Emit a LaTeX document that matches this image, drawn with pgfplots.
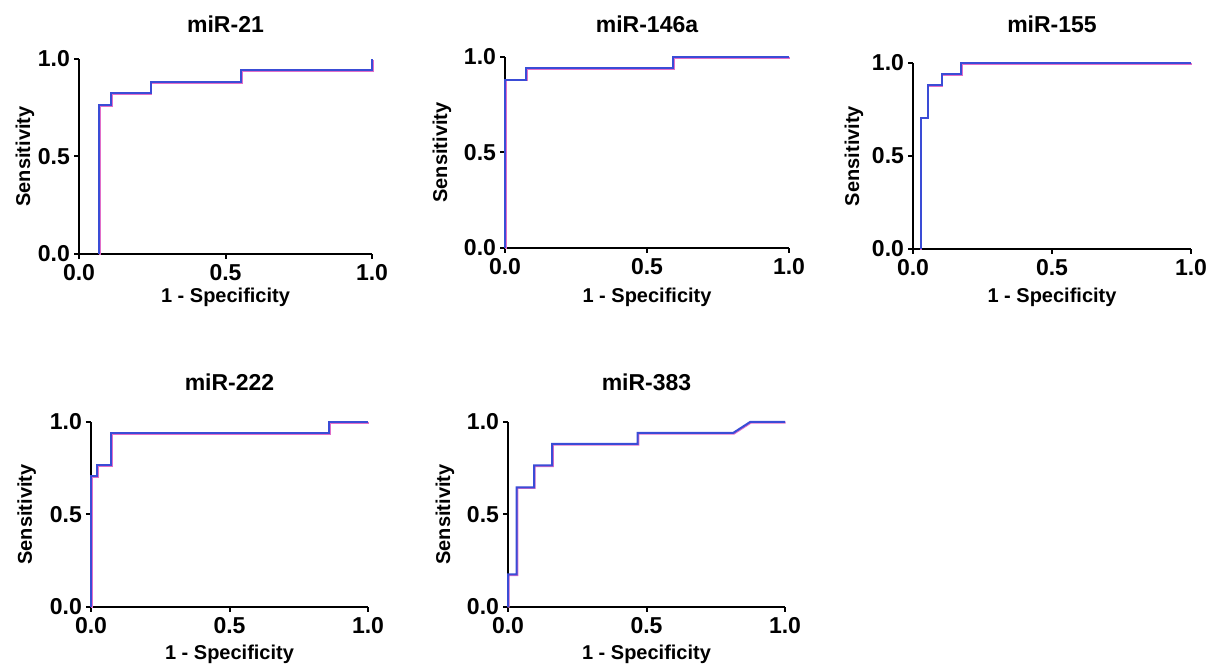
\documentclass[border=0pt]{standalone}
\usepackage{pgfplots}
\pgfplotsset{compat=1.18}
\usepackage{fontspec}
\setmainfont{Liberation Sans}
\definecolor{rocblue}{RGB}{58,76,214}
\definecolor{rocpink}{RGB}{225,110,200}
\pgfplotsset{
  rocaxis/.style={
    scale only axis,
    axis x line*=bottom, axis y line*=left,
    axis line style={line width=1pt, black},
    xmin=0, xmax=1, ymin=0, ymax=1,
    xtick={0,0.5,1}, ytick={0,0.5,1},
    xticklabels={0.0,0.5,1.0}, yticklabels={0.0,0.5,1.0},
    tick align=outside, major tick length=2.5pt,
    tick style={line width=1pt, black},
    ticklabel style={font=\bfseries\fontsize{11.5}{13}\selectfont},
    xtick pos=bottom, ytick pos=left,
    xticklabel style={yshift=1pt},
    yticklabel style={xshift=1.5pt},
    xlabel={1 - Specificity}, ylabel={Sensitivity},
    label style={font=\bfseries\fontsize{10}{12}\selectfont},
    title style={font=\bfseries\fontsize{11.5}{13}\selectfont, anchor=base},
    clip=false,
  },
  pinkline/.style={rocpink, line width=1pt, no marks, xshift=0.35pt, yshift=-0.35pt},
  blueline/.style={rocblue, line width=1pt, no marks},
}
\begin{document}
\begin{tikzpicture}
\useasboundingbox (0,0) rectangle (604.5pt,333.5pt);
% miR-21
\begin{axis}[rocaxis, at={(39.5pt,206.5pt)}, anchor=south west,
  width=146.5pt, height=97.5pt, title={miR-21},
  title style={at={(axis description cs:0.5,1.072)}},
  xlabel style={at={(axis description cs:0.5,-0.251)}, anchor=base},
  ylabel style={at={(axis description cs:-0.167,0.5)}, anchor=base}]
\addplot[pinkline] coordinates {(0.068,0) (0.068,0.765) (0.109,0.765) (0.109,0.824) (0.245,0.824) (0.245,0.882) (0.553,0.882) (0.553,0.941) (1,0.941) (1,1)};
\addplot[blueline] coordinates {(0.068,0) (0.068,0.765) (0.109,0.765) (0.109,0.824) (0.245,0.824) (0.245,0.882) (0.553,0.882) (0.553,0.941) (1,0.941) (1,1)};
\end{axis}
% miR-146a
\begin{axis}[rocaxis, at={(252.5pt,209.5pt)}, anchor=south west,
  width=142pt, height=95.5pt, title={miR-146a},
  title style={at={(axis description cs:0.5,1.063)}},
  xlabel style={at={(axis description cs:0.5,-0.288)}, anchor=base},
  ylabel style={at={(axis description cs:-0.204,0.5)}, anchor=base}]
\addplot[pinkline] coordinates {(0,0) (0,0.882) (0.074,0.882) (0.074,0.941) (0.593,0.941) (0.593,1) (1,1)};
\addplot[blueline] coordinates {(0,0) (0,0.882) (0.074,0.882) (0.074,0.941) (0.593,0.941) (0.593,1) (1,1)};
\end{axis}
% miR-155
\begin{axis}[rocaxis, at={(456.5pt,209pt)}, anchor=south west,
  width=139pt, height=93pt, title={miR-155},
  title style={at={(axis description cs:0.5,1.102)}},
  xlabel style={at={(axis description cs:0.5,-0.29)}, anchor=base},
  ylabel style={at={(axis description cs:-0.194,0.5)}, anchor=base}]
\addplot[pinkline] coordinates {(0.028,0) (0.028,0.706) (0.053,0.706) (0.053,0.882) (0.103,0.882) (0.103,0.941) (0.174,0.941) (0.174,1) (1,1)};
\addplot[blueline] coordinates {(0.028,0) (0.028,0.706) (0.053,0.706) (0.053,0.882) (0.103,0.882) (0.103,0.941) (0.174,0.941) (0.174,1) (1,1)};
\end{axis}
% miR-222
\begin{axis}[rocaxis, at={(45.5pt,30pt)}, anchor=south west,
  width=138.5pt, height=92.5pt, title={miR-222},
  title style={at={(axis description cs:0.5,1.108)}},
  xlabel style={at={(axis description cs:0.5,-0.286)}, anchor=base},
  ylabel style={at={(axis description cs:-0.213,0.5)}, anchor=base}]
\addplot[pinkline] coordinates {(0,0) (0,0.706) (0.023,0.706) (0.023,0.765) (0.072,0.765) (0.072,0.941) (0.859,0.941) (0.859,1) (1,1)};
\addplot[blueline] coordinates {(0,0) (0,0.706) (0.023,0.706) (0.023,0.765) (0.072,0.765) (0.072,0.941) (0.859,0.941) (0.859,1) (1,1)};
\end{axis}
% miR-383
\begin{axis}[rocaxis, at={(254pt,30pt)}, anchor=south west,
  width=138.5pt, height=92.5pt, title={miR-383},
  title style={at={(axis description cs:0.5,1.108)}},
  xlabel style={at={(axis description cs:0.5,-0.286)}, anchor=base},
  ylabel style={at={(axis description cs:-0.209,0.5)}, anchor=base}]
\addplot[pinkline] coordinates {(0,0) (0,0.176) (0.031,0.176) (0.031,0.647) (0.094,0.647) (0.094,0.765) (0.159,0.765) (0.159,0.882) (0.468,0.882) (0.468,0.941) (0.813,0.941) (0.874,1) (1,1)};
\addplot[blueline] coordinates {(0,0) (0,0.176) (0.031,0.176) (0.031,0.647) (0.094,0.647) (0.094,0.765) (0.159,0.765) (0.159,0.882) (0.468,0.882) (0.468,0.941) (0.813,0.941) (0.874,1) (1,1)};
\end{axis}
\end{tikzpicture}
\end{document}
